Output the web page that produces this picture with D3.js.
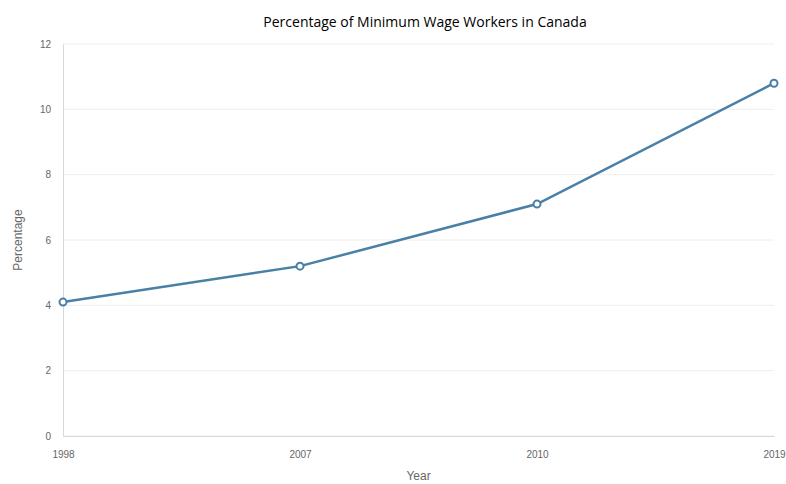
<!DOCTYPE html>
<html>
<head>
<meta charset="utf-8">
<script src="https://cdn.jsdelivr.net/npm/d3@7"></script>
<style>
  body { margin: 0; background: #fff; }
  svg { display: block; }
  .tick text { font-family: "Liberation Sans", Arial, sans-serif; font-size: 10px; fill: #666; }
</style>
</head>
<body>
<div id="chart"></div>
<script>
const years = ["1998", "2007", "2010", "2019"];
const percentages = [4.1, 5.2, 7.1, 10.8];
const yTicks = [0, 2, 4, 6, 8, 10, 12];

const width = 786, height = 484;
const margin = { top: 44, right: 12, bottom: 48, left: 63 };
const innerW = width - margin.left - margin.right;
const innerH = height - margin.top - margin.bottom;

const data = years.map((y, i) => ({ year: y, value: percentages[i] }));

const svg = d3.select("#chart")
  .append("svg")
  .attr("width", width)
  .attr("height", height);

const g = svg.append("g")
  .attr("transform", "translate(" + margin.left + "," + margin.top + ")");

const x = d3.scalePoint()
  .domain(years)
  .range([0, innerW]);

const y = d3.scaleLinear()
  .domain([0, 12])
  .range([innerH, 0]);

// grid lines
g.append("g")
  .selectAll("line")
  .data(yTicks)
  .enter()
  .append("line")
  .attr("x1", 0)
  .attr("x2", innerW)
  .attr("y1", d => y(d))
  .attr("y2", d => y(d))
  .attr("stroke", "#eeeeee")
  .attr("stroke-width", 1);

// y axis
const yAxis = g.append("g")
  .call(d3.axisLeft(y).tickValues(yTicks).tickSize(0).tickPadding(12));
yAxis.select(".domain").attr("stroke", "#d8d8d8");

// x axis
const xAxis = g.append("g")
  .attr("transform", "translate(0," + innerH + ")")
  .call(d3.axisBottom(x).tickSize(0).tickPadding(15));
xAxis.select(".domain").attr("stroke", "#d8d8d8");

// line
g.append("path")
  .datum(data)
  .attr("fill", "none")
  .attr("stroke", "#4a7fa6")
  .attr("stroke-width", 2.5)
  .attr("d", d3.line()
    .x(d => x(d.year))
    .y(d => y(d.value)));

// points
g.selectAll("circle.pt")
  .data(data)
  .enter()
  .append("circle")
  .attr("class", "pt")
  .attr("cx", d => x(d.year))
  .attr("cy", d => y(d.value))
  .attr("r", 3.5)
  .attr("fill", "#fff")
  .attr("stroke", "#4a7fa6")
  .attr("stroke-width", 2);

// title
svg.append("text")
  .attr("x", 425)
  .attr("y", 27)
  .attr("text-anchor", "middle")
  .style("font-family", "'Open Sans', 'Noto Sans', sans-serif")
  .style("font-size", "14px")
  .style("fill", "#000")
  .text("Percentage of Minimum Wage Workers in Canada");

// axis titles
svg.append("text")
  .attr("x", margin.left + innerW / 2)
  .attr("y", 480)
  .attr("text-anchor", "middle")
  .style("font-family", "'Liberation Sans', Arial, sans-serif")
  .style("font-size", "12px")
  .style("fill", "#666")
  .text("Year");

svg.append("text")
  .attr("transform", "translate(22," + (margin.top + innerH / 2) + ") rotate(-90)")
  .attr("text-anchor", "middle")
  .style("font-family", "'Liberation Sans', Arial, sans-serif")
  .style("font-size", "12px")
  .style("fill", "#666")
  .text("Percentage");
</script>
</body>
</html>
